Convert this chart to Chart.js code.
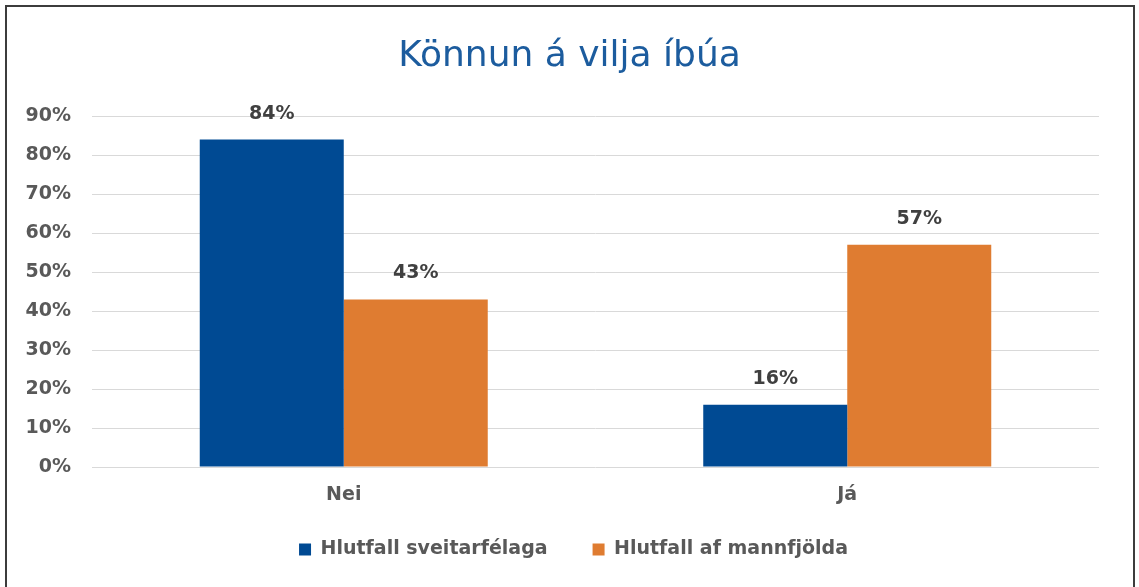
<!DOCTYPE html>
<html lang="is">
<head>
    <meta charset="UTF-8">
    <title>Könnun á vilja íbúa</title>
    <script src="https://cdn.jsdelivr.net/npm/chart.js"></script>
    <style>
        body {
            margin: 0;
            background: #ffffff;
            overflow: hidden;
        }
        #frame {
            position: absolute;
            left: 5px;
            top: 5px;
            width: 1126px;
            height: 640px;
            border: 2px solid #3c3c3c;
        }
        #chartContainer {
            position: absolute;
            left: 0;
            top: 0;
            width: 1139px;
            height: 587px;
        }
    </style>
</head>
<body>
    <div id="frame"></div>
    <div id="chartContainer">
        <canvas id="surveyChart"></canvas>
    </div>

    <script>
        // Chart data
        const categories = ['Nei', 'Já'];
        const seriesNames = ['Hlutfall sveitarfélaga', 'Hlutfall af mannfjölda'];
        const sveitarfelog = [84, 16];
        const mannfjoldi = [43, 57];
        const seriesColors = ['#004A93', '#DF7C31'];

        const textGray = '#595959';
        const baseFont = 'DejaVu Sans, Verdana, sans-serif';

        // draws the value above each bar
        const valueLabels = {
            id: 'valueLabels',
            afterDatasetsDraw(chart) {
                const ctx = chart.ctx;
                ctx.save();
                ctx.font = 'bold 19px ' + baseFont;
                ctx.fillStyle = '#404040';
                ctx.textAlign = 'center';
                ctx.textBaseline = 'middle';
                chart.data.datasets.forEach((ds, i) => {
                    chart.getDatasetMeta(i).data.forEach((bar, j) => {
                        ctx.fillText(ds.data[j] + '%', bar.x, bar.y - 26);
                    });
                });
                ctx.restore();
            }
        };

        // title and legend are centred on the whole frame, not the padded area
        const nudgeBoxes = {
            id: 'nudgeBoxes',
            afterLayout(chart) {
                if (chart.titleBlock) {
                    chart.titleBlock.left += 20;
                    chart.titleBlock.right += 20;
                }
                if (chart.legend) {
                    chart.legend.left += 24;
                    chart.legend.right += 24;
                    chart.legend.top -= 10;
                    chart.legend.bottom -= 10;
                }
            }
        };

        const ctx = document.getElementById('surveyChart').getContext('2d');
        new Chart(ctx, {
            type: 'bar',
            data: {
                labels: categories,
                datasets: [
                    { label: seriesNames[0], data: sveitarfelog, backgroundColor: seriesColors[0] },
                    { label: seriesNames[1], data: mannfjoldi, backgroundColor: seriesColors[1] }
                ]
            },
            options: {
                responsive: true,
                maintainAspectRatio: false,
                animation: false,
                categoryPercentage: 0.572,
                barPercentage: 1.0,
                layout: {
                    padding: { left: 0, right: 40, top: 35, bottom: 8 }
                },
                scales: {
                    x: {
                        grid: { display: false },
                        border: { display: false },
                        ticks: {
                            color: textGray,
                            padding: 9,
                            font: { family: baseFont, size: 19, weight: 'bold' }
                        },
                        afterFit(scale) { scale.height = 38; }
                    },
                    y: {
                        min: 0,
                        max: 90,
                        ticks: {
                            stepSize: 10,
                            color: textGray,
                            padding: 21,
                            font: { family: baseFont, size: 19, weight: 'bold' },
                            callback: v => v + '%'
                        },
                        grid: { color: '#d9d9d9', lineWidth: 1, drawTicks: false },
                        border: { display: false },
                        afterFit(scale) { scale.width = 92; }
                    }
                },
                plugins: {
                    title: {
                        display: true,
                        text: 'Könnun á vilja íbúa',
                        color: '#1C5C9E',
                        font: { family: baseFont, size: 36, weight: 'normal' },
                        padding: { top: 0, bottom: 38 }
                    },
                    legend: {
                        position: 'bottom',
                        labels: {
                            color: textGray,
                            boxWidth: 12,
                            boxHeight: 12,
                            padding: 45,
                            font: { family: baseFont, size: 19, weight: 'bold' }
                        }
                    },
                    tooltip: { enabled: false }
                }
            },
            plugins: [valueLabels, nudgeBoxes]
        });
    </script>
</body>
</html>
